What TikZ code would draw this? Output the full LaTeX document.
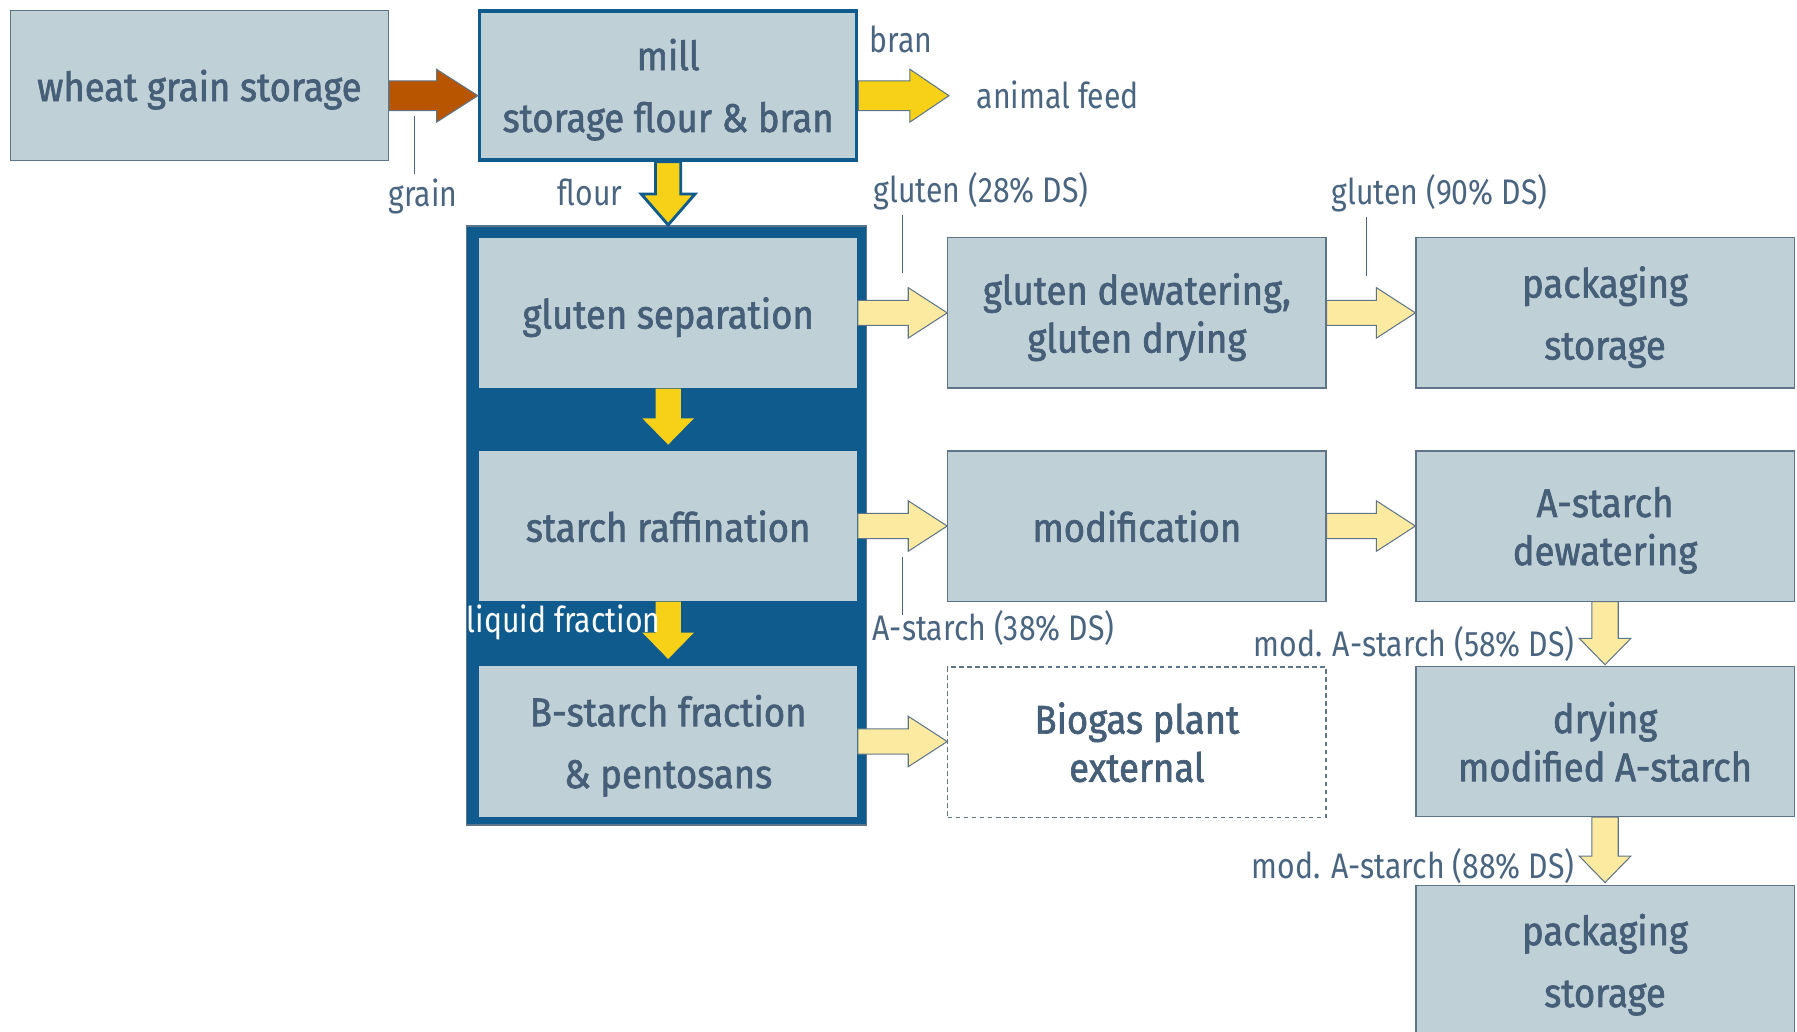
\documentclass[tikz,border=0pt]{standalone}
\usepackage{fontspec}
\setmainfont{Fira Sans}[FakeStretch=0.85]
\newfontfamily\boxfont{Fira Sans}[FakeStretch=0.91, FakeBold=1.6]
\usetikzlibrary{calc}
\definecolor{boxfill}{HTML}{BFD0D7}
\definecolor{boxtext}{HTML}{465F78}
\definecolor{boxline}{HTML}{5E7589}
\definecolor{darkblue}{HTML}{0F5B8D}
\definecolor{yell}{HTML}{F6D117}
\definecolor{paleyell}{HTML}{FCEAA0}
\definecolor{orng}{HTML}{B85500}
\definecolor{lbltext}{HTML}{4A6580}
% #1 style, #2 from, #3 to, #4 shaft half width, #5 head half width, #6 head length
\newcommand\blockR[6]{\path[#1] let \p1=#2, \p2=#3 in
  (\x1,\y1+#4) -- (\x2-#6,\y1+#4) -- (\x2-#6,\y1+#5) -- (\x2,\y1)
  -- (\x2-#6,\y1-#5) -- (\x2-#6,\y1-#4) -- (\x1,\y1-#4) -- cycle;}
\newcommand\blockD[6]{\path[#1] let \p1=#2, \p2=#3 in
  (\x1-#4,\y1) -- (\x1-#4,\y2+#6) -- (\x1-#5,\y2+#6) -- (\x1,\y2)
  -- (\x1+#5,\y2+#6) -- (\x1+#4,\y2+#6) -- (\x1+#4,\y1) -- cycle;}
\begin{document}
\begin{tikzpicture}[x=1pt,y=-1pt,
  procbox/.style={fill=boxfill, draw=boxline, line width=1pt, minimum width=330pt, minimum height=131pt,
    inner sep=0pt, align=center, text depth=0pt, text=boxtext, font=\boxfont\fontsize{35}{42}\selectfont},
  widebox/.style={procbox, font=\boxfont\fontsize{35}{54}\selectfont},
  innerbox/.style={procbox, draw=none},
  lbl/.style={text=lbltext, inner sep=0pt, font=\fontsize{31}{34}\selectfont},
  leader/.style={draw=lbltext, line width=0.9pt},
  palearrow/.style={fill=paleyell, draw=boxline, line width=0.9pt},
  yellarrow/.style={fill=yell, draw=boxline, line width=0.9pt},
  yellplain/.style={fill=yell},
  flourarrow/.style={fill=yell, draw=darkblue, line width=2.5pt},
  orangearrow/.style={fill=orng, draw=boxline, line width=0.9pt}
]
\clip (0,0) rectangle (1568,900);
\useasboundingbox (0,0) rectangle (1568,900);
\fill[white] (0,0) rectangle (1568,900);

% top row
\node[procbox] (ws) at (174,74.5) {wheat grain storage};
\node[widebox, draw=darkblue, line width=3pt, minimum width=329pt, minimum height=130pt] (mill) at (583,74.5) {mill\\storage flour \& bran};

% container
\node[fill=darkblue, draw=boxline, line width=1.5pt, minimum width=349pt, minimum height=523pt, inner sep=0pt] (cont) at (581.5,458.5) {};
\node[innerbox] (gs) at (583,273) {gluten separation};
\node[innerbox] (sr) at (583,459) {starch raffination};
\node[innerbox, font=\boxfont\fontsize{35}{54}\selectfont] (bs) at (583,647) {B-starch fraction\\\& pentosans};

% right columns
\node[procbox] (gd) at (992,273) {gluten dewatering,\\gluten drying};
\node[widebox] (pk1) at (1400.5,273) {packaging\\storage};
\node[procbox] (mod) at (992,459) {modification};
\node[procbox] (asd) at (1400.5,459) {A-starch\\dewatering};
\node[procbox, fill=white, dashed, dash pattern=on 4pt off 3pt] (bio) at (992,647.5) {Biogas plant\\external};
\node[procbox] (dry) at (1400.5,647) {drying\\modified A-starch};
\node[widebox] (pk2) at (1400.5,838) {packaging\\storage};

% arrows
\blockR{orangearrow}{($(ws.east)+(0,9)$)}{($(mill.west)+(0,9)$)}{13pt}{23pt}{36pt}
\blockR{yellarrow}{($(mill.east)+(0,9)$)}{($(mill.east)+(79,9)$)}{13pt}{23pt}{34pt}
\blockD{flourarrow}{(mill.south)}{(cont.north)}{11pt}{23.5pt}{27pt}
\blockD{yellplain}{(gs.south)}{($(sr.north)+(0,-5)$)}{11pt}{22.5pt}{23pt}
\blockD{yellplain}{(sr.south)}{($(bs.north)+(0,-6)$)}{11pt}{22.5pt}{23pt}
\blockR{palearrow}{(gs.east)}{(gd.west)}{11pt}{22pt}{34pt}
\blockR{palearrow}{(gd.east)}{(pk1.west)}{11pt}{22pt}{34pt}
\blockR{palearrow}{(sr.east)}{(mod.west)}{11pt}{22pt}{34pt}
\blockR{palearrow}{(mod.east)}{(asd.west)}{11pt}{22pt}{34pt}
\blockR{palearrow}{(bs.east)}{(bio.west)}{11pt}{22pt}{34pt}
\blockD{palearrow}{(asd.south)}{($(dry.north)+(0,-1)$)}{11.5pt}{22.5pt}{23pt}
\blockD{palearrow}{(dry.south)}{($(pk2.north)+(0,-2)$)}{11.5pt}{22.5pt}{23pt}

% labels
\node[lbl] (grain) at (369,171) {grain};
\node[lbl] (flour) at (515,168) {flour};
\node[lbl] (bran) at (786,34) {bran};
\node[lbl] (feed) at (923,83) {animal feed};
\node[lbl] (g28) at (856,167) {gluten (28\% DS)};
\node[lbl] (g90) at (1256,169) {gluten (90\% DS)};
\node[lbl] (a38) at (867,548) {A-starch (38\% DS)};
\node[lbl, anchor=east] (m58) at (1374,562) {mod. A-starch (58\% DS)};
\node[lbl, anchor=east] (m88) at (1374,756) {mod. A-starch (88\% DS)};
\node[lbl, text=white, anchor=west] (liq) at (407,543) {liquid fraction};

% leader lines
\coordinate (la1) at (362,101); \coordinate (lb1) at (362,152);
\coordinate (la2) at (787.5,188); \coordinate (lb2) at (787.5,238);
\coordinate (la3) at (1192,189); \coordinate (lb3) at (1192,241);
\coordinate (la4) at (787.5,486); \coordinate (lb4) at (787.5,537);
\draw[leader] (la1) -- (lb1);
\draw[leader] (la2) -- (lb2);
\draw[leader] (la3) -- (lb3);
\draw[leader] (la4) -- (lb4);
\end{tikzpicture}
\end{document}
